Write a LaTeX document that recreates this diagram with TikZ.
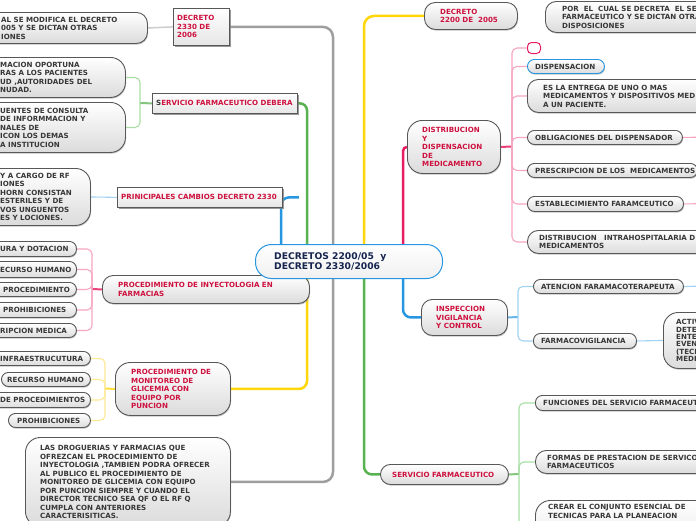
\documentclass[tikz,border=0pt]{standalone}
\usepackage{fontspec}
\setmainfont{DejaVu Sans}
\usetikzlibrary{shadows,calc}
\pgfdeclarelayer{bg}
\pgfsetlayers{bg,main}
\definecolor{cRed}{RGB}{206,17,62}
\definecolor{cDark}{RGB}{55,55,55}
\definecolor{cNavy}{RGB}{22,36,78}
\definecolor{cBord}{RGB}{88,88,88}
\definecolor{cGray}{RGB}{158,158,158}
\definecolor{cGrayL}{RGB}{205,205,205}
\definecolor{cGreenM}{RGB}{88,178,80}
\definecolor{cGreenL}{RGB}{168,222,165}
\definecolor{cYelM}{RGB}{255,214,10}
\definecolor{cYelL}{RGB}{255,232,150}
\definecolor{cPinkM}{RGB}{232,30,98}
\definecolor{cPinkL}{RGB}{246,165,195}
\definecolor{cBlueM}{RGB}{38,150,225}
\definecolor{cBlueL}{RGB}{160,210,242}
\newcommand\mbx[9]{%
  \node[#1, minimum width=#5pt, minimum height=#6pt, anchor=north west] (#2) at (#3,#4) {};
  \node[#8, anchor=west] (#2t) at ([xshift=#7pt]#2.west) {#9};}
\begin{document}
\begin{tikzpicture}[x=1pt,y=-1pt,
  base/.style={draw=cBord, line width=0.9pt, top color=white, bottom color=black!14, inner sep=0pt,
    drop shadow={shadow xshift=0.6pt, shadow yshift=-1.2pt, fill=black!40, opacity=0.6}},
  pill/.style={base, rounded corners=7pt},
  rnd/.style={base, rounded corners=11pt},
  rbig/.style={base, rounded corners=15pt},
  rectbox/.style={draw=cBord, line width=0.8pt, top color=white, bottom color=black!10, inner sep=0pt,
    drop shadow={shadow xshift=1.5pt, shadow yshift=-2pt, fill=black!50, opacity=0.8}},
  cstyle/.style={draw=cBlueM, line width=1pt, top color=white, bottom color=black!6, inner sep=0pt, rounded corners=16pt},
  txt/.style={inner sep=0pt, align=left, font=\fontsize{7.1}{8.5}\selectfont\bfseries},
  tred/.style={txt, text=cRed},
  tdark/.style={txt, text=cDark},
  tact/.style={inner sep=0pt, align=left, font=\fontsize{7.1}{7.3}\selectfont\bfseries, text=cDark},
  tcen/.style={inner sep=0pt, align=left, font=\fontsize{9.2}{10.5}\selectfont\bfseries, text=cNavy},
  mgray/.style={draw=cGray, line width=2.5pt},
  lgray/.style={draw=cGrayL, line width=1.5pt},
  mgreen/.style={draw=cGreenM, line width=2.5pt},
  jgreen/.style={draw=cGreenM!75!white, line width=2pt},
  sgreen/.style={draw=cGreenL, line width=1.1pt, rounded corners=5pt},
  myel/.style={draw=cYelM, line width=2.5pt},
  jyel/.style={draw=cYelM!80!white, line width=2pt},
  syel/.style={draw=cYelL, line width=1.1pt, rounded corners=5pt},
  mpink/.style={draw=cPinkM, line width=2.5pt},
  jpink/.style={draw=cPinkM!85!white, line width=2pt},
  spink/.style={draw=cPinkL, line width=1.1pt, rounded corners=5pt},
  mblue/.style={draw=cBlueM, line width=2.5pt},
  jblue/.style={draw=cBlueM!70!white, line width=2pt},
  sblue/.style={draw=cBlueL, line width=1.1pt, rounded corners=5pt}]
\useasboundingbox (0,0) rectangle (696,520);
\clip (0,0) rectangle (696,520);
% ---------- left side ----------
\mbx{rnd}{mod}{-40}{12}{187}{31}{41}{tdark}{AL SE MODIFICA EL DECRETO\\005 Y SE DICTAN OTRAS\\IONES}
\mbx{rectbox}{dA}{173}{8}{56}{37}{4}{tred}{DECRETO\\2330 DE\\2006}
\mbx{rbig}{brin}{-40}{57}{165}{40}{40}{tdark}{MACION OPORTUNA\\RAS A LOS PACIENTES\\UD ,AUTORIDADES DEL\\NUDAD.}
\mbx{rbig}{fuen}{-40}{102}{165}{50}{40}{tdark}{UENTES DE CONSULTA\\DE INFORMMACION Y\\NALES DE\\ICON LOS DEMAS\\A INSTITUCION}
\mbx{rectbox}{sfd}{152}{93}{145}{20}{4}{tred}{{\color{cDark}S}ERVICIO FARMACEUTICO DEBERA}
\mbx{rbig}{cam}{-40}{168}{130}{57}{40}{tdark}{Y A CARGO DE RF\\IONES\\HORN CONSISTAN\\ESTERILES Y DE\\VOS UNGUENTOS\\ES Y LOCIONES.}
\mbx{rectbox}{pc}{117}{187}{165}{20}{4}{tred}{PRINICIPALES CAMBIOS DECRETO 2330}
\mbx{pill}{ia}{-30}{241}{106}{15}{30}{tdark}{URA Y DOTACION}
\mbx{pill}{ib}{-30}{261}{106}{16}{30}{tdark}{ECURSO HUMANO}
\mbx{pill}{ic}{-30}{282}{106}{14}{33}{tdark}{PROCEDIMIENTO}
\mbx{pill}{id}{-30}{302}{106}{15}{33}{tdark}{PROHIBICIONES}
\mbx{pill}{ie}{-30}{323}{106}{14}{30}{tdark}{RIPCION MEDICA}
\mbx{rnd}{iny}{102}{275}{207}{28}{16}{tred}{PROCEDIMIENTO DE INYECTOLOGIA EN\\FARMACIAS}
\mbx{pill}{ya}{-30}{351}{120}{14}{30}{tdark}{INFRAESTRUCUTURA}
\mbx{pill}{yb}{1}{372}{89}{14}{6}{tdark}{RECURSO HUMANO}
\mbx{pill}{yc}{-30}{392}{120}{15}{30}{tdark}{DE PROCEDIMIENTOS}
\mbx{pill}{yd}{8}{413}{82}{14}{9}{tdark}{PROHIBICIONES}
\mbx{rbig}{mon}{115}{362}{115}{53}{16}{tred}{PROCEDIMIENTO DE\\MONITOREO DE\\GLICEMIA CON\\EQUIPO POR\\PUNCION}
\mbx{rbig}{drog}{25}{437}{205}{89}{15}{tdark}{LAS DROGUERIAS Y FARMACIAS QUE\\OFREZCAN EL PROCEDIMIENTO DE\\INYECTOLOGIA ,TAMBIEN PODRA OFRECER\\AL PUBLICO EL PROCEDIMIENTO DE\\MONITOREO DE GLICEMIA CON EQUIPO\\POR PUNCION SIEMPRE Y CUANDO EL\\DIRECTOR TECNICO SEA QF O EL RF Q\\CUMPLA CON ANTERIORES\\CARACTERISITICAS.}
% ---------- centre ----------
\mbx{cstyle}{c}{255}{244}{187}{34}{19}{tcen}{DECRETOS 2200/05~ y\\DECRETO 2330/2006}
% ---------- right side ----------
\mbx{rnd}{dB}{424}{2}{93}{27}{16}{tred}{DECRETO\\2200 DE~ 2005}
\mbx{rnd}{porc}{545}{1}{190}{31}{17}{tdark}{POR~ EL~ CUAL SE DECRETA~ EL SE\\FARMACEUTICO Y SE DICTAN OTRAS\\DISPOSICIONES}
\node[draw=cPinkM, line width=1pt, fill=white, rounded corners=4pt, minimum width=13pt, minimum height=11pt, inner sep=0pt, anchor=north west] (sm) at (527,42) {};
\mbx{pill,draw=cBlueM}{disp}{527}{59}{77}{14}{8}{tdark}{DISPENSACION}
\mbx{rnd}{entr}{527}{79}{200}{33}{16}{tdark}{ES LA ENTREGA DE UNO O MAS\\MEDICAMENTOS Y DISPOSITIVOS MED\\A UN PACIENTE.}
\mbx{rbig}{dist}{407}{120}{93}{53}{15}{tred}{DISTRIBUCION\\Y\\DISPENSACION\\DE\\MEDICAMENTO}
\mbx{pill}{obl}{527}{130}{155}{14}{8}{tdark}{OBLIGACIONES DEL DISPENSADOR}
\mbx{pill}{pres}{527}{163}{170}{14}{8}{tdark}{PRESCRIPCION DE LOS~ MEDICAMENTOS}
\mbx{pill}{esta}{527}{196}{156}{15}{8}{tdark}{ESTABLECIMIENTO FARAMCEUTICO}
\mbx{rnd}{dih}{527}{230}{200}{23}{12}{tdark}{DISTRIBUCION~~ INTRAHOSPITALARIA D\\MEDICAMENTOS}
\mbx{rnd}{insp}{421}{299}{86}{36}{15}{tred}{INSPECCION\\VIGILANCIA\\Y CONTROL}
\mbx{pill}{aten}{533}{279}{150}{14}{8}{tdark}{ATENCION FARAMACOTERAPEUTA}
\mbx{pill}{fv}{533}{333}{103}{15}{8}{tdark}{FARMACOVIGILANCIA}
\mbx{rbig}{act}{663}{312}{60}{56}{13}{tact}{ACTIV\\DETE\\ENTE\\EVEN\\(TECN\\MEDI}
\mbx{base,rounded corners=10pt}{sf}{380}{464}{128}{20}{12}{tred}{SERVICIO FARMACEUTICO}
\mbx{pill}{fun}{535}{395}{180}{15}{8}{tdark}{FUNCIONES DEL SERVICIO FARMACEUT}
\mbx{rnd}{form}{535}{450}{180}{23}{12}{tdark}{FORMAS DE PRESTACION DE SERVICOS\\FARMACEUTICOS}
\node[rbig, minimum width=180pt, minimum height=70pt, anchor=north west] (crear) at (535,500) {};
\node[tdark, anchor=north west] (creart) at ([xshift=13pt,yshift=-4.5pt]crear.north west) {CREAR EL CONJUNTO ESENCIAL DE\\TECNICAS PARA LA PLANEACION};
% ---------- connectors ----------
\begin{pgfonlayer}{bg}
\clip (0,0) rectangle (696,520);
\coordinate (cg1) at (307,255);
\coordinate (cg2) at (364,268);
\coordinate (cy1) at (364,255);
\coordinate (cy2) at (307,268);
\coordinate (cp1) at (403,255);
\coordinate (cb1) at (281,255);
\coordinate (cb2) at (403,268);
\draw[lgray] (mod.east) -- (dA.west);
\draw[mgray, rounded corners=10pt] (dA.east) -| (333,400) |- (drog.east);
\draw[mgreen, rounded corners=7pt] (sfd.east) -| (cg1);
\draw[mgreen, rounded corners=8pt] (cg2) |- (sf.west);
\draw[myel, rounded corners=10pt] (cy1) |- (dB.west);
\draw[myel, rounded corners=8pt] (cy2) |- (mon.east);
\draw[mpink, rounded corners=4pt] (cp1) |- (dist.west);
\draw[mblue, rounded corners=8pt] (cb1) |- ($(pc.east)+(16,0)$);
\draw[mblue, rounded corners=8pt] (cb2) |- (insp.west);
% left subs
\coordinate (gj) at (140,103);
\draw[jgreen] (sfd.west) -- (gj);
\draw[sgreen] (gj) |- (brin.east);
\draw[sgreen] (gj) |- (fuen.east);
\draw[sblue] (cam.east) -- (pc.west);
\coordinate (ipj) at (92,289);
\draw[jpink] (iny.west) -- (ipj);
\foreach \n in {ia,ib,ic,id,ie} \draw[spink] (ipj) |- (\n.east);
\coordinate (ypj) at (105,388.5);
\draw[jyel] (mon.west) -- (ypj);
\foreach \n in {ya,yb,yc,yd} \draw[syel] (ypj) |- (\n.east);
% right subs
\coordinate (rpj) at (512,146.5);
\draw[jpink] (dist.east) -- (rpj);
\foreach \n in {sm,disp,entr,obl,pres,esta,dih} \draw[spink] (rpj) |- (\n.west);
\coordinate (oblx) at (710,137);
\coordinate (estx) at (710,203.5);
\draw[spink] (obl.east) -- (oblx);
\draw[spink] (esta.east) -- (estx);
\coordinate (rbj) at (518,317);
\draw[jblue] (insp.east) -- (rbj);
\draw[sblue] (rbj) |- (aten.west);
\draw[sblue] (rbj) |- (fv.west);
\coordinate (atx) at (710,286);
\draw[sblue] (aten.east) -- (atx);
\draw[sblue] (fv.east) -- (act.west);
\coordinate (rgj) at (519,474);
\draw[jgreen] (sf.east) -- (rgj);
\foreach \n in {fun,form,crear} \draw[sgreen] (rgj) |- (\n.west);
\end{pgfonlayer}
\end{tikzpicture}
\end{document}
